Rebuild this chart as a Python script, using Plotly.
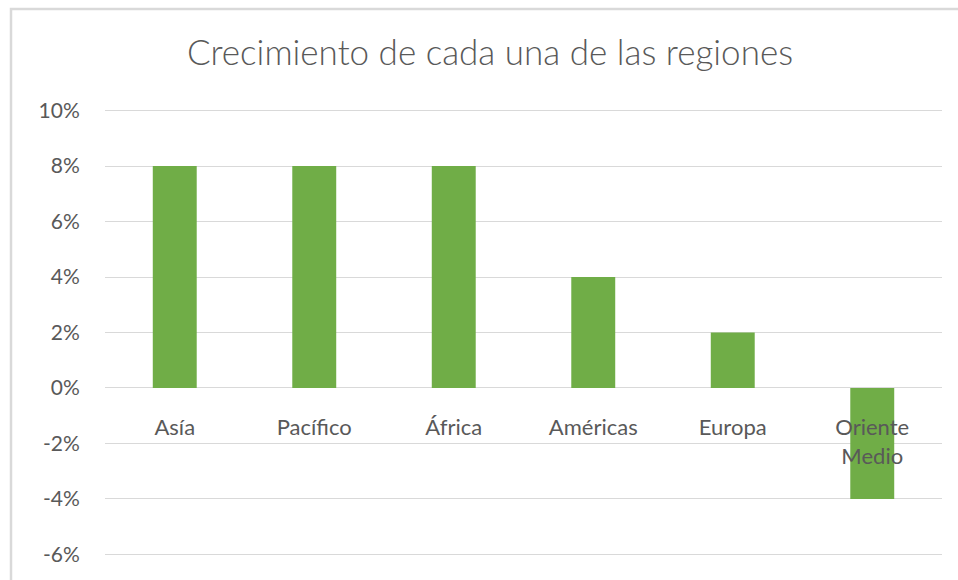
import plotly.graph_objects as go

regions = ["Asía", "Pacífico", "África", "Américas", "Europa", "Oriente<br>Medio"]
growth = [0.08, 0.08, 0.08, 0.04, 0.02, -0.04]
tick_values = [-0.06, -0.04, -0.02, 0.0, 0.02, 0.04, 0.06, 0.08, 0.10]
tick_labels = ["-6%", "-4%", "-2%", "0%", "2%", "4%", "6%", "8%", "10%"]
title_text = "Crecimiento de cada una de las regiones"

FONT = "Lato, Calibri, sans-serif"
GREY = "#595959"

fig = go.Figure(
    go.Bar(
        x=regions,
        y=growth,
        marker=dict(color="#70AD47", line=dict(width=0)),
        width=0.315,
    )
)

L, R, T, B = 105, 16, 109, 24
W, H = 958, 580
pw, ph = W - L - R, H - T - B
pad = 0.0006
yr = [tick_values[0] - pad, tick_values[-1] + pad]
zero_frac = (0 - yr[0]) / (yr[1] - yr[0])

fig.update_layout(
    width=W,
    height=H,
    margin=dict(l=L, r=R, t=T, b=B),
    paper_bgcolor="white",
    plot_bgcolor="white",
    showlegend=False,
    title=dict(
        text=title_text,
        x=490 / W,
        xanchor="center",
        y=1 - 53 / H,
        yanchor="middle",
        font=dict(family=FONT, size=35, color=GREY, weight=300),
    ),
    font=dict(family=FONT, color=GREY),
    bargap=0.685,
    xaxis=dict(
        anchor="free",
        position=zero_frac,
        showgrid=False,
        showline=False,
        zeroline=False,
        ticks="outside",
        ticklen=20,
        tickcolor="rgba(0,0,0,0)",
        tickfont=dict(family=FONT, size=22, color=GREY),
        fixedrange=True,
    ),
    yaxis=dict(
        range=yr,
        tickvals=tick_values,
        ticktext=tick_labels,
        showgrid=True,
        gridcolor="#D9D9D9",
        gridwidth=1,
        zeroline=True,
        zerolinecolor="#D9D9D9",
        zerolinewidth=1,
        showline=False,
        ticks="outside",
        ticklen=20,
        tickcolor="rgba(0,0,0,0)",
        tickfont=dict(family=FONT, size=21, color=GREY),
    ),
)

# chart outer border (Excel chart area), extending past the visible window
x0 = (11 - L) / pw
y1 = (H - B - 9) / ph
fig.add_shape(
    type="rect",
    xref="paper",
    yref="paper",
    x0=x0,
    x1=(W + 20 - L) / pw,
    y0=-(B + 20) / ph,
    y1=y1,
    line=dict(color="#D9D9D9", width=2.5),
    fillcolor="rgba(0,0,0,0)",
    layer="below",
)

fig.write_html("out.html")
